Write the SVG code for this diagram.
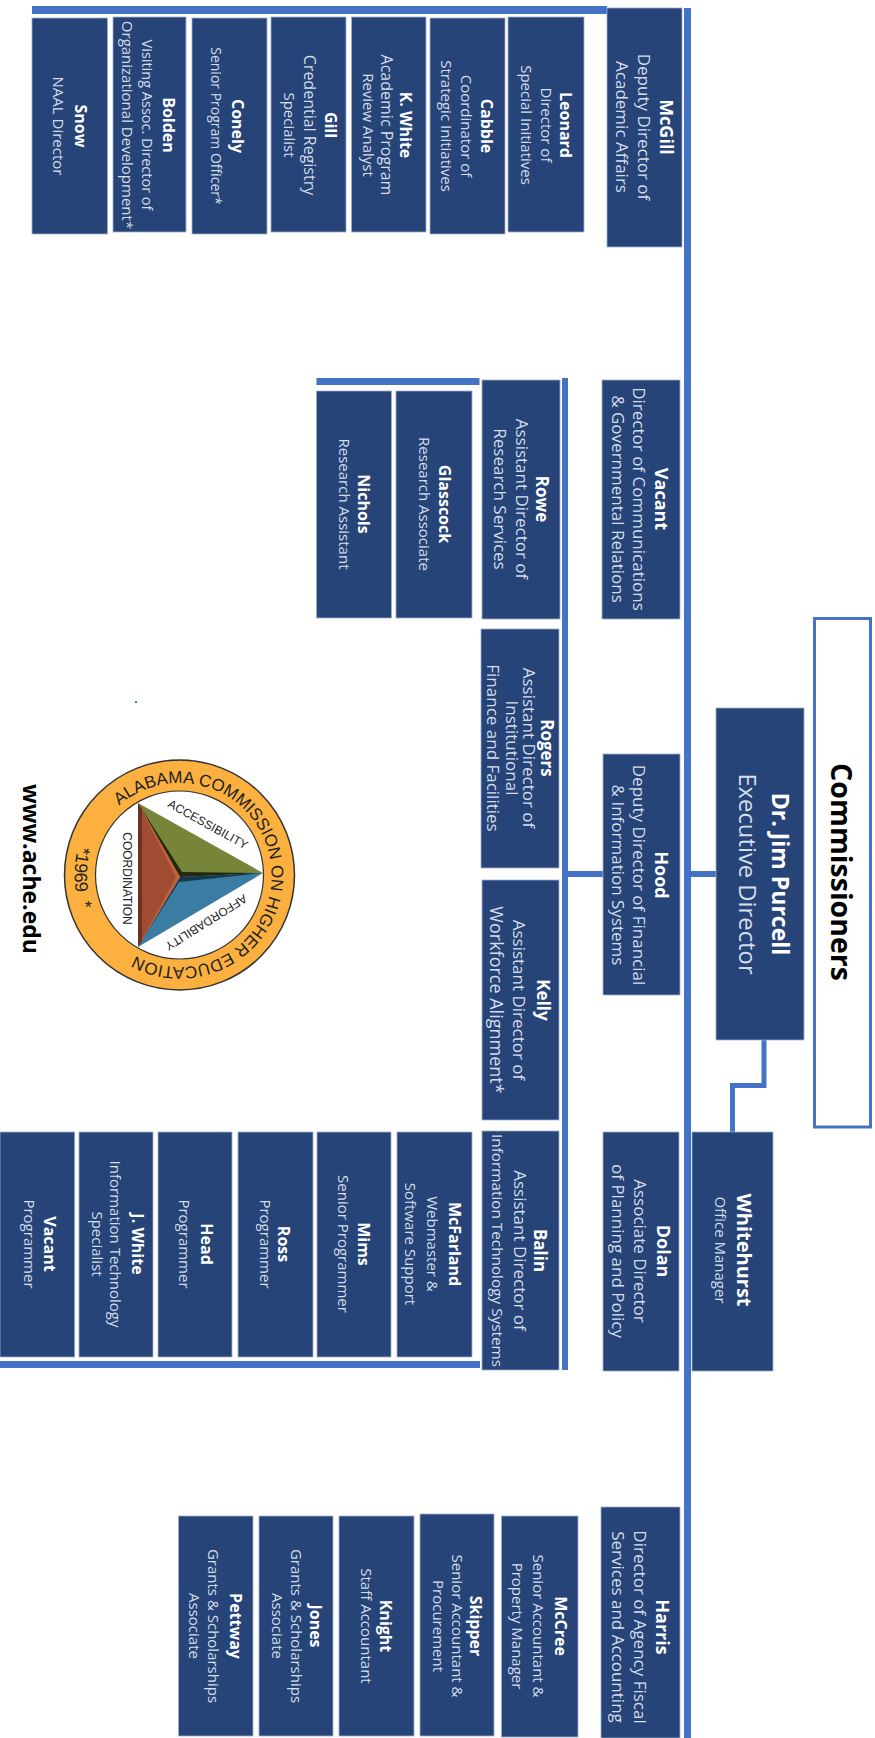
<svg xmlns="http://www.w3.org/2000/svg" width="875" height="1738" viewBox="0 0 875 1738">
<style>
text{font-family:"Open Sans","Noto Sans",sans-serif;text-anchor:middle}
.b{fill:#264478;stroke:#9fb0cc;stroke-width:.8}
.n14{font-size:16px;font-weight:700;fill:#fff}
.r14{font-size:15px;fill:#d5dcea}
.n16{font-size:18px;font-weight:700;fill:#fff}
.n17{font-size:17px;font-weight:700;fill:#fff}
.r16{font-size:17px;fill:#d5dcea}
.l{fill:#4472c4}
.lg{font-family:"Liberation Sans",Arial,sans-serif;fill:#222}
.ring{text-anchor:start}
</style>
<defs>
<path id="ringA" d="M119.1 805.6A92 92 0 1 1 120.4 945.5"/>
<path id="ringB" d="M82.5 835A105 105 0 0 0 85.200 921"/>
</defs>
<g id="connectors">
<rect class="l" x="32" y="6" width="575" height="8"/>
<rect class="l" x="684" y="8" width="7" height="1730"/>
<rect class="l" x="562" y="378" width="6" height="992"/>
<rect class="l" x="316.500" y="378" width="163" height="7"/>
<rect class="l" x="0" y="1361" width="480" height="7"/>
<rect class="l" x="568" y="871" width="35" height="6"/>
<rect class="l" x="691" y="871" width="25" height="6"/>
<path d="M764 1040V1085.500H732.500V1132" fill="none" stroke="#4472c4" stroke-width="5"/>
</g>
<g id="commissioners"><rect x="814.500" y="618.500" width="56" height="508.500" fill="#fff" stroke="#4472c4" stroke-width="3"/>
<text transform="translate(841,872) rotate(90)" y="10" font-size="28.500" font-weight="700" fill="#000">Commissioners</text></g>
<g id="purcell"><rect class="b" x="716" y="708" width="88" height="332"/>
<g transform="translate(780,874) rotate(90)"><text y="8" font-size="23" font-weight="700" fill="#fff">Dr. Jim Purcell</text><text y="41" font-size="23.800" fill="#d5dcea">Executive Director</text></g></g>
<g id="whitehurst"><rect class="b" x="692" y="1132" width="81" height="239"/>
<g transform="translate(744,1250) rotate(90)"><text y="7" font-size="20" font-weight="700" fill="#fff">Whitehurst</text><text class="r14" y="29">Office Manager</text></g></g>
<g id="mcgill"><rect class="b" x="607" y="8" width="75" height="239"/>
<g transform="translate(666,127) rotate(90)"><text class="n16" y="6">McGill</text><text class="r16" y="28">Deputy Director of</text><text class="r16" y="50">Academic Affairs</text></g></g>
<g id="vacant-comm"><rect class="b" x="602" y="380" width="78" height="239"/>
<g transform="translate(661,499) rotate(90)"><text class="n16" y="6">Vacant</text><text class="r16" y="28">Director of Communications</text><text class="r16" y="49.500">&amp; Governmental Relations</text></g></g>
<g id="hood"><rect class="b" x="603" y="754" width="77" height="241"/>
<g transform="translate(661,875) rotate(90)"><text class="n16" y="6">Hood</text><text class="r16" y="28">Deputy Director of Financial</text><text class="r16" y="49.500">&amp; Information Systems</text></g></g>
<g id="dolan"><rect class="b" x="603" y="1132" width="76" height="239"/>
<g transform="translate(663,1251) rotate(90)"><text class="n16" y="6">Dolan</text><text class="r16" y="29">Associate Director</text><text class="r16" y="51">of Planning and Policy</text></g></g>
<g id="harris"><rect class="b" x="601" y="1507" width="79" height="231"/>
<g transform="translate(661.500,1627) rotate(90)"><text class="n16" y="6">Harris</text><text class="r16" y="28">Director of Agency Fiscal</text><text class="r16" y="50">Services and Accounting</text></g></g>
<g id="rowe"><rect class="b" x="482" y="380" width="78" height="239"/>
<g transform="translate(542,499) rotate(90)"><text class="n17" y="6">Rowe</text><text class="r16" y="26.500">Assistant Director of</text><text class="r16" y="48">Research Services</text></g></g>
<g id="rogers"><rect class="b" x="481" y="629" width="78" height="239"/>
<g transform="translate(547,748) rotate(90)"><text class="n17" y="6">Rogers</text><text class="r16" y="24">Assistant Director of</text><text class="r16" y="41.500">Institutional</text><text class="r16" y="60">Finance and Facilities</text></g></g>
<g id="kelly"><rect class="b" x="482" y="880" width="77" height="240"/>
<g transform="translate(543,1000) rotate(90)"><text class="n17" y="6">Kelly</text><text class="r16" y="30">Assistant Director of</text><text class="r16" y="53" style="font-size:18px">Workforce Alignment*</text></g></g>
<g id="balin"><rect class="b" x="482" y="1131" width="77" height="239"/>
<g transform="translate(540,1250.500) rotate(90)"><text class="n17" y="6">Balin</text><text class="r16" y="26.500">Assistant Director of</text><text y="48" font-size="15.300" fill="#d5dcea">Information Technology Systems</text></g></g>
<g id="leonard"><rect class="b" x="508" y="17" width="76" height="215"/>
<g transform="translate(565,125) rotate(90)"><text class="n14" y="5">Leonard</text><text class="r14" y="24.500">Director of</text><text class="r14" y="44">Special Initiatives</text></g></g>
<g id="cabble"><rect class="b" x="430" y="18" width="75" height="216"/>
<g transform="translate(486,126) rotate(90)"><text class="n14" y="5">Cabble</text><text class="r14" y="25">Coordinator of</text><text class="r14" y="45">Strategic Initiatives</text></g></g>
<g id="kwhite"><rect class="b" x="351.500" y="17" width="74.500" height="215"/>
<g transform="translate(405,125) rotate(90)"><text class="n14" y="5">K. White</text><text class="r14" y="24" style="font-size:16px">Academic Program</text><text class="r14" y="42">Review Analyst</text></g></g>
<g id="gill"><rect class="b" x="271" y="17" width="75" height="215"/>
<g transform="translate(330,125) rotate(90)"><text class="n14" y="5">Gill</text><text class="r14" y="26" style="font-size:16px">Credential Registry</text><text class="r14" y="46">Specialist</text></g></g>
<g id="conely"><rect class="b" x="192" y="18" width="75" height="216"/>
<g transform="translate(237,126) rotate(90)"><text class="n14" y="5">Conely</text><text class="r14" y="26" style="font-size:14px">Senior Program Officer*</text></g></g>
<g id="bolden"><rect class="b" x="113" y="17" width="73" height="215"/>
<g transform="translate(168,125) rotate(90)"><text class="n14" y="5">Bolden</text><text class="r14" y="26" style="font-size:14.500px">Visiting Assoc. Director of</text><text class="r14" y="46">Organizational Development*</text></g></g>
<g id="snow"><rect class="b" x="32" y="18" width="75.500" height="216"/>
<g transform="translate(79.500,126) rotate(90)"><text class="n14" y="5">Snow</text><text class="r14" y="27">NAAL Director</text></g></g>
<g id="glasscock"><rect class="b" x="396" y="391" width="76" height="227"/>
<g transform="translate(444,504) rotate(90)"><text class="n14" y="5">Glasscock</text><text class="r14" y="25">Research Associate</text></g></g>
<g id="nichols"><rect class="b" x="316.500" y="391" width="75" height="227"/>
<g transform="translate(363,504) rotate(90)"><text class="n14" y="5">Nichols</text><text class="r14" y="24">Research Assistant</text></g></g>
<g id="mcfarland"><rect class="b" x="397" y="1132" width="75" height="225"/>
<g transform="translate(454,1244) rotate(90)"><text class="n14" y="5">McFarland</text><text class="r14" y="27">Webmaster &amp;</text><text class="r14" y="49">Software Support</text></g></g>
<g id="mims"><rect class="b" x="317" y="1132" width="74" height="225"/>
<g transform="translate(363,1244) rotate(90)"><text class="n14" y="5">Mims</text><text class="r14" y="25">Senior Programmer</text></g></g>
<g id="ross"><rect class="b" x="238" y="1132" width="75" height="225"/>
<g transform="translate(283,1244) rotate(90)"><text class="n14" y="5">Ross</text><text class="r14" y="23">Programmer</text></g></g>
<g id="head"><rect class="b" x="158" y="1132" width="74" height="225"/>
<g transform="translate(206,1244) rotate(90)"><text class="n14" y="5">Head</text><text class="r14" y="27">Programmer</text></g></g>
<g id="jwhite"><rect class="b" x="79" y="1132" width="74" height="225"/>
<g transform="translate(137,1244) rotate(90)"><text class="n14" y="5">J. White</text><text class="r14" y="27">Information Technology</text><text class="r14" y="45">Specialist</text></g></g>
<g id="vacant-prog"><rect class="b" x="0" y="1132" width="74.700" height="225"/>
<g transform="translate(49,1244) rotate(90)"><text class="n14" y="5">Vacant</text><text class="r14" y="25">Programmer</text></g></g>
<g id="mccree"><rect class="b" x="501.500" y="1516" width="76.500" height="221"/>
<g transform="translate(560,1626) rotate(90)"><text class="n14" y="5">McCree</text><text class="r14" y="27">Senior Accountant &amp;</text><text class="r14" y="48.500">Property Manager</text></g></g>
<g id="skipper"><rect class="b" x="420" y="1514" width="74" height="222"/>
<g transform="translate(475,1626) rotate(90)"><text class="n14" y="5">Skipper</text><text class="r14" y="23.500">Senior Accountant &amp;</text><text class="r14" y="42">Procurement</text></g></g>
<g id="knight"><rect class="b" x="339" y="1516" width="75" height="220"/>
<g transform="translate(385,1626) rotate(90)"><text class="n14" y="5">Knight</text><text class="r14" y="24">Staff Accountant</text></g></g>
<g id="jones"><rect class="b" x="259" y="1516" width="74" height="220"/>
<g transform="translate(315,1626) rotate(90)"><text class="n14" y="5">Jones</text><text class="r14" y="24">Grants &amp; Scholarships</text><text class="r14" y="43">Associate</text></g></g>
<g id="pettway"><rect class="b" x="178.500" y="1516" width="74.500" height="220"/>
<g transform="translate(234.500,1626) rotate(90)"><text class="n14" y="5">Pettway</text><text class="r14" y="27">Grants &amp; Scholarships</text><text class="r14" y="46">Associate</text></g></g>
<g id="logo">
<circle cx="179.500" cy="875" r="115" fill="#fbb040" stroke="#333" stroke-width="1.500"/>
<circle cx="179.500" cy="875" r="84" fill="#fff" stroke="#333" stroke-width="1.200"/>
<polygon points="138,803 180,877 138,947" fill="#a04c32"/>
<polygon points="138,803 263,873 180,877" fill="#76853a"/>
<polygon points="180,877 263,873 138,947" fill="#3b7ca3"/>
<polygon points="138,803 180,877 263,873 182,872" fill="#23280f"/>
<polygon points="138,947 180,877 263,873 179,882" fill="#16384e"/>
<polygon points="138,803 180,877 138,947 176,877" fill="#c45f3c"/>
<polygon points="138,803 142,809 142,941 138,947" fill="#6e3020"/>
<text class="lg" transform="translate(123,878.500) rotate(90)" font-size="12">COORDINATION</text>
<text class="lg" transform="translate(206,828) rotate(29)" font-size="12">ACCESSIBILITY</text>
<text class="lg" transform="translate(204,919) rotate(148)" font-size="12">AFFORDABILITY</text>
<text class="lg ring" font-size="17"><textPath href="#ringA">ALABAMA COMMISSION ON HIGHER EDUCATION</textPath></text>
<text class="lg" font-size="18" word-spacing="6"><textPath href="#ringB" startOffset="50%">*1969 *</textPath></text>
<rect x="135" y="701" width="2" height="2" fill="#4472c4"/>
<text transform="translate(23,869) rotate(90)" font-size="23" font-weight="700" fill="#000">www.ache.edu</text>
</g>
</svg>
